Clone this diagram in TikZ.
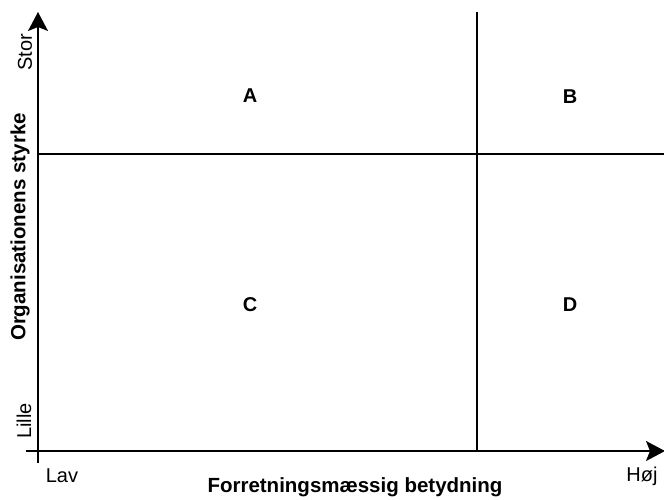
\documentclass[tikz,border=0pt]{standalone}
\usepackage{fontspec}
\setmainfont{Liberation Sans}
\usetikzlibrary{arrows.meta}

\tikzset{
  axis/.style={line width=1.5pt, -{Stealth[length=19pt, width=20pt, inset=4pt]}},
  divider/.style={line width=1.4pt},
  cell/.style={font=\fontsize{20}{22}\selectfont\bfseries},
  scaletext/.style={font=\fontsize{20}{22}\selectfont},
  axistitle/.style={font=\fontsize{20.5}{22}\selectfont\bfseries}
}

\begin{document}
\begin{tikzpicture}[x=1pt, y=-1pt]
  \useasboundingbox (0,0) rectangle (664,499);

  % --- Axes ---
  \coordinate (yfoot) at (38,463);
  \coordinate (ytip)  at (38,12);
  \coordinate (xfoot) at (26,451);
  \coordinate (xtip)  at (665,451);
  \draw[axis] (yfoot) -- (ytip);
  \draw[axis] (xfoot) -- (xtip);

  % --- Dividers ---
  \coordinate (vtop) at (477,12);
  \coordinate (vbot) at (477,451);
  \coordinate (hleft) at (38,154);
  \coordinate (hright) at (664,154);
  \draw[divider] (vtop) -- (vbot);
  \draw[divider] (hleft) -- (hright);

  % --- Quadrants ---
  \node[cell] (a) at (250,96) {A};
  \node[cell] (b) at (570,97) {B};
  \node[cell] (c) at (250,305) {C};
  \node[cell] (d) at (570,305) {D};

  % --- Scale labels ---
  \node[scaletext, rotate=90] (stor) at (25,52) {Stor};
  \node[scaletext, rotate=90] (lille) at (24,421) {Lille};
  \node[scaletext] (lav) at (62,476) {Lav};
  \node[scaletext] (hoj) at (642,476) {Høj};

  % --- Axis titles ---
  \node[axistitle] (xtitle) at (355,487) {Forretningsmæssig betydning};
  \node[axistitle, rotate=90] (ytitle) at (20,227) {Organisationens styrke};
\end{tikzpicture}
\end{document}
